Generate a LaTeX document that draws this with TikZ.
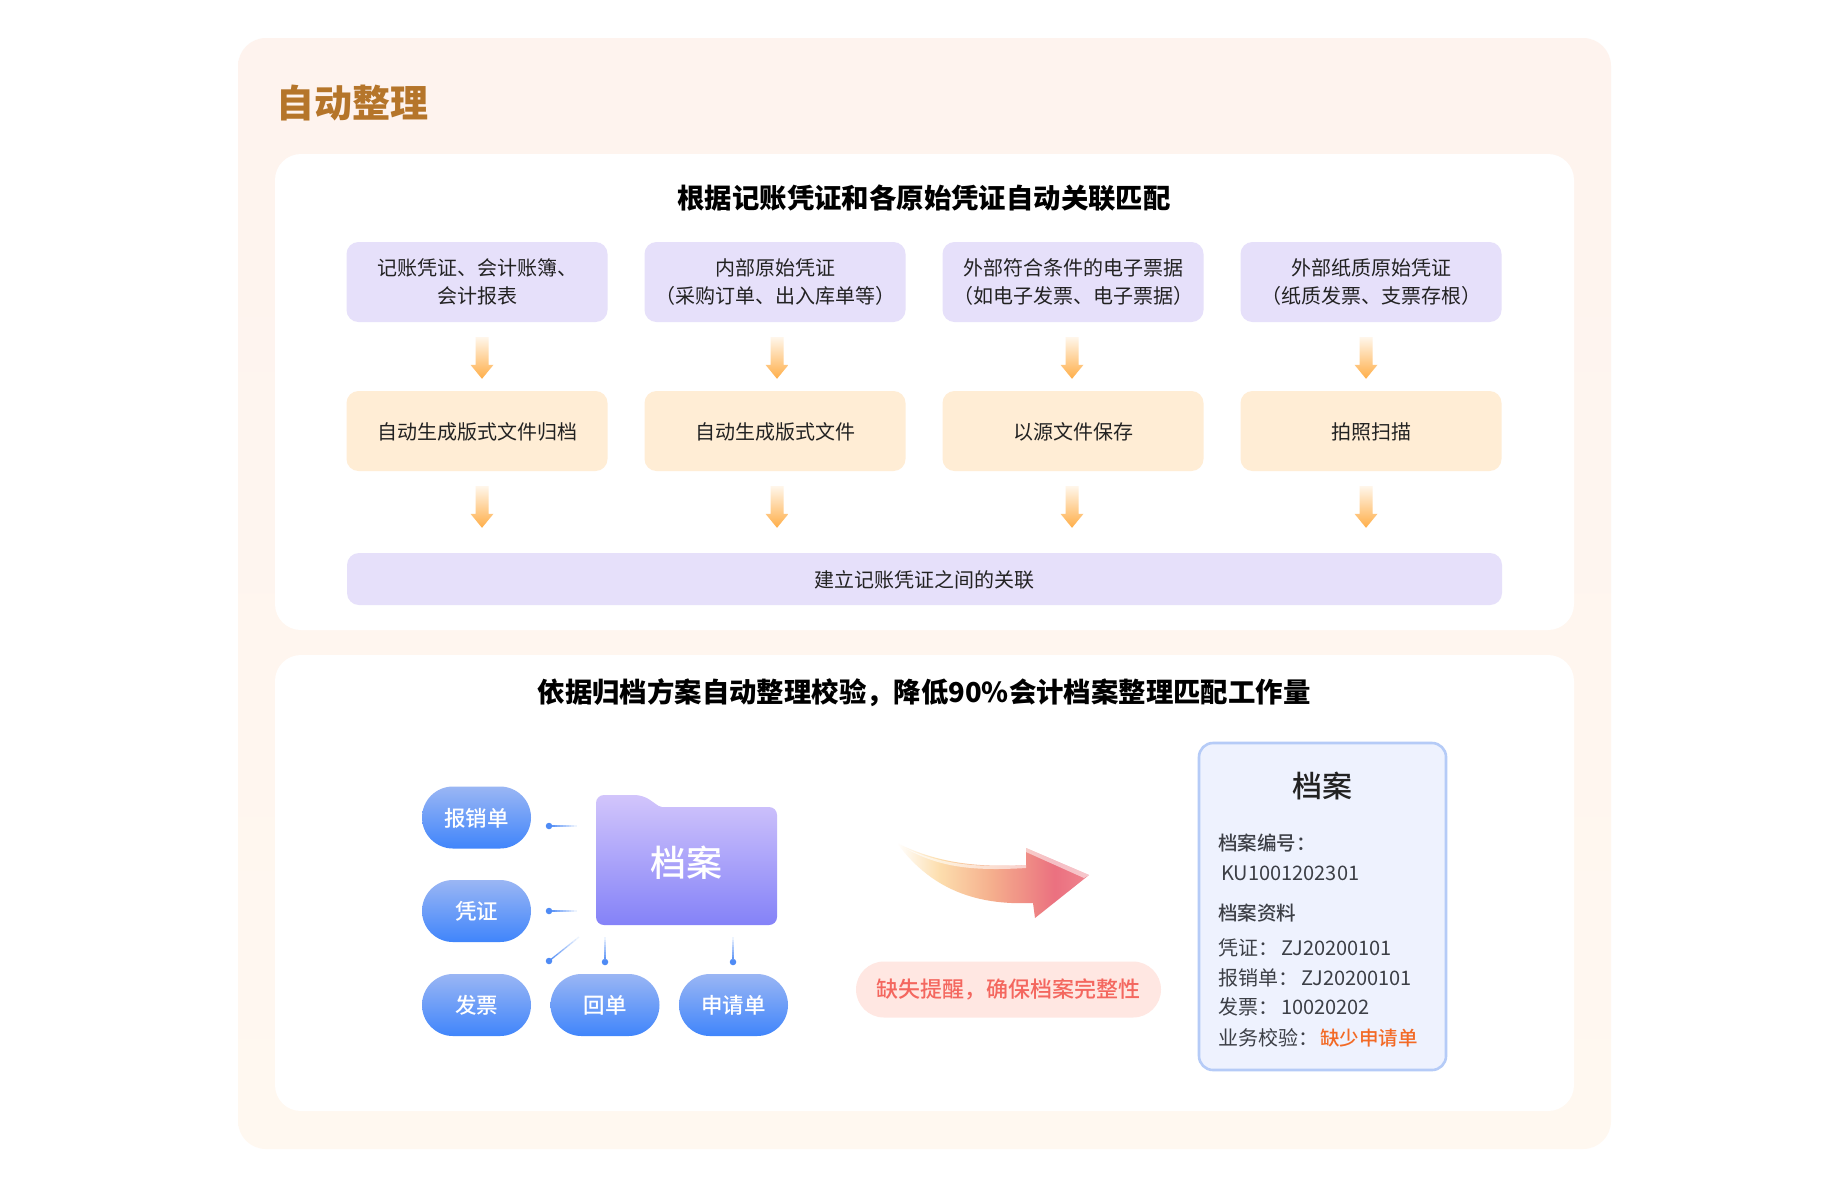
\documentclass[tikz,border=0pt]{standalone}
\usepackage{fontspec}
\setmainfont{Noto Sans CJK SC}
\newfontfamily\cjkmid{Noto Sans CJK SC Medium}
\usetikzlibrary{shapes,arrows,calc}
\definecolor{panelTop}{HTML}{FEF3EE}
\definecolor{panelBot}{HTML}{FFF8F0}
\definecolor{titleBrown}{HTML}{B5752A}
\definecolor{srcPurple}{HTML}{E6E0FA}
\definecolor{fileOrange}{HTML}{FFEDD5}
\definecolor{inkDark}{HTML}{222222}
\definecolor{inkCard}{HTML}{3C3F46}
\definecolor{arrowTop}{HTML}{FFF6EA}
\definecolor{arrowBot}{HTML}{FFAE48}
\definecolor{pillTop}{HTML}{9AB6F4}
\definecolor{pillBot}{HTML}{4085FB}
\definecolor{folderTop}{HTML}{D2C5FB}
\definecolor{folderBot}{HTML}{8482F8}
\definecolor{dotBlue}{HTML}{4F8BF5}
\definecolor{warnFill}{HTML}{FFE7E2}
\definecolor{warnText}{HTML}{F4675F}
\definecolor{cardFill}{HTML}{EEF2FE}
\definecolor{cardLine}{HTML}{B5CBF7}
\definecolor{missOrange}{HTML}{F36A26}
\pgfdeclarehorizontalshading{bigarrowshade}{100bp}{rgb(0bp)=(1,1,1); rgb(25bp)=(1,1,1); rgb(36bp)=(0.99,0.87,0.68); rgb(50bp)=(0.96,0.68,0.55); rgb(66bp)=(0.92,0.44,0.50); rgb(75bp)=(0.94,0.52,0.56); rgb(100bp)=(0.94,0.52,0.56)}
\tikzstyle{panel} = [rounded corners=26, fill=white]
\tikzstyle{lowered} = [execute at begin node={\rule{0pt}{0.89em}}]
\tikzstyle{lowertwo} = [execute at begin node={\rule{0pt}{1.45em}}]
\tikzstyle{heading} = [font=\fontsize{27.4}{32}\selectfont\bfseries, text=black, inner sep=0]
\tikzstyle{block} = [rectangle, rounded corners=12, text centered, align=center, inner sep=0, minimum width=261, minimum height=80, text=inkDark, font=\fontsize{20}{28}\selectfont, lowered]
\tikzstyle{srcblock} = [block, fill=srcPurple, lowertwo]
\tikzstyle{fileblock} = [block, fill=fileOrange]
\tikzstyle{flowline} = [top color=arrowTop, bottom color=arrowBot]
\tikzstyle{pill} = [rectangle, rounded corners=31, minimum width=109, minimum height=62, inner sep=0, top color=pillTop, bottom color=pillBot, text=white, font=\fontsize{21.5}{26}\cjkmid, lowered]
\tikzstyle{tick} = [circle, fill=dotBlue, minimum size=6.5, inner sep=0]
\tikzstyle{cardtext} = [anchor=west, inner sep=0, text=inkCard, font=\fontsize{20}{24}\selectfont]
\newcommand{\flowarrow}[4]{
        \coordinate (s) at ($(#1.south)+(#3,15)$);
        \coordinate (t) at ($(s |- #2.north)+(0,#4)$);
        \shade[flowline] ($(s)+(-6.5,0)$) -- ($(s)+(6.5,0)$) -- ($(t)+(6.5,-14)$) -- ($(t)+(11.5,-14)$) -- (t) -- ($(t)+(-11.5,-14)$) -- ($(t)+(-6.5,-14)$) -- cycle;
}
\newcommand{\fadeline}[2]{
        \foreach \i in {0,...,9} {
                \pgfmathsetmacro{\shadeval}{100-\i*10}
                \draw[dotBlue!\shadeval!white, line width=1.3] ($(#1)!\i/10!(#2)$) -- ($(#1)!\i/10+0.1!(#2)$);
        }
}

\begin{document}
\begin{tikzpicture}[x=1pt, y=-1pt, node distance=149pt]
        \useasboundingbox (0,0) rectangle (1827,1176);
        \fill[white] (0,0) rectangle (1827,1176);
        \shade[rounded corners=28, top color=panelTop, bottom color=panelBot] (238,38) rectangle (1611,1149);
        \fill[panel] (275,154) rectangle (1574,630);
        \fill[panel] (275,655) rectangle (1574,1111);
        \node[inner sep=0, text=titleBrown, font=\fontsize{38}{44}\selectfont\bfseries] (title) at (352,103) {自动整理};
        \node[heading] (headone) at (924,198) {根据记账凭证和各原始凭证自动关联匹配};
        \node[heading] (headtwo) at (924,692.5) {依据归档方案自动整理校验^^^^ff0c降低90\%会计档案整理匹配工作量};
        \node[srcblock] (ledger) at (477,282) {记账凭证、会计账簿、\\会计报表};
        \node[srcblock, right of=ledger, node distance=298pt] (internal) {内部原始凭证\\^^^^ff08采购订单、出入库单等^^^^ff09};
        \node[srcblock, right of=internal, node distance=298pt] (external) {外部符合条件的电子票据\\^^^^ff08如电子发票、电子票据^^^^ff09};
        \node[srcblock, right of=external, node distance=298pt] (paper) {外部纸质原始凭证\\^^^^ff08纸质发票、支票存根^^^^ff09};
        \node[fileblock, below of=ledger] (ledgerfile) {自动生成版式文件归档};
        \node[fileblock, below of=internal] (internalfile) {自动生成版式文件};
        \node[fileblock, below of=external] (sourcefile) {以源文件保存};
        \node[fileblock, below of=paper] (scanfile) {拍照扫描};
        \node[block, fill=srcPurple, minimum width=1155, minimum height=52] (link) at (924.5,579) {建立记账凭证之间的关联};
        \flowarrow{ledger}{ledgerfile}{5}{-12}
        \flowarrow{internal}{internalfile}{2}{-12}
        \flowarrow{external}{sourcefile}{-1}{-12}
        \flowarrow{paper}{scanfile}{-5}{-12}
        \flowarrow{ledgerfile}{link}{5}{-25}
        \flowarrow{internalfile}{link}{2}{-25}
        \flowarrow{sourcefile}{link}{-1}{-25}
        \flowarrow{scanfile}{link}{-5}{-25}
        \node[pill] (expense) at (476.5,817.5) {报销单};
        \node[pill, below of=expense, node distance=93.5pt] (voucher) {凭证};
        \node[pill, below of=voucher, node distance=94pt] (invoice) {发票};
        \node[pill, right of=invoice, node distance=128.5pt] (receipt) {回单};
        \node[pill, right of=receipt, node distance=128.5pt] (request) {申请单};
        \shade[rounded corners=8, top color=folderTop, bottom color=folderBot] (596,925) -- (596,795) -- (643,795) [rounded corners=2] -- (660,807) [rounded corners=8] -- (777,807) -- (777,925) -- cycle;
        \node[inner sep=0, text=white, font=\fontsize{36}{42}\cjkmid] (folder) at (686,863) {档案};
        \node[tick] (tickone) at (549,826) {};
        \node[tick] (ticktwo) at (549,911) {};
        \node[tick] (tickthree) at (549,961) {};
        \node[tick] (tickfour) at (605,962) {};
        \node[tick] (tickfive) at (733,962) {};
        \coordinate (endone) at (577,826);
        \coordinate (endtwo) at (577,911);
        \coordinate (endthree) at (579,937);
        \coordinate (endfour) at (605,937);
        \coordinate (endfive) at (733,937);
        \fadeline{tickone}{endone}
        \fadeline{ticktwo}{endtwo}
        \fadeline{tickthree}{endthree}
        \fadeline{tickfour}{endfour}
        \fadeline{tickfive}{endfive}
        \shade[shading=bigarrowshade] (897,843) .. controls (935,862) and (975,868) .. (1026,865) -- (1026,848) -- (1089,875) -- (1035,918) -- (1033,903) .. controls (985,905) and (935,895) .. (897,843) -- cycle;
        \fill[white, opacity=0.6] (905,848) .. controls (940,864) and (975,868) .. (1026,865) -- (1026,868) .. controls (975,871) and (940,868) .. (905,848) -- cycle;
        \fill[white, opacity=0.55] (1026,848) -- (1089,875) -- (1084,878) -- (1026,852) -- cycle;
        \node[rectangle, rounded corners=28, fill=warnFill, minimum width=305, minimum height=56, inner sep=0, text=warnText, font=\fontsize{22}{26}\cjkmid, lowered] (warning) at (1008.5,989.5) {缺失提醒^^^^ff0c确保档案完整性};
        \draw[rounded corners=14, fill=cardFill, draw=cardLine, line width=2.6] (1199,743) rectangle (1446,1070);
        \node[inner sep=0, text=inkDark, font=\fontsize{30}{36}\cjkmid] (cardtitle) at (1322,786) {档案};
        \node[cardtext, font=\fontsize{19.5}{24}\cjkmid] (numlabel) at (1218,843) {档案编号^^^^ff1a};
        \node[cardtext] (numvalue) at (1221,873) {KU1001202301};
        \node[cardtext, font=\fontsize{19.5}{24}\cjkmid] (datalabel) at (1218,913) {档案资料};
        \node[cardtext] (vouchernum) at (1218,948) {凭证^^^^ff1a\hspace{3pt}ZJ20200101};
        \node[cardtext] (expensenum) at (1218,978) {报销单^^^^ff1a\hspace{3pt}ZJ20200101};
        \node[cardtext] (invoicenum) at (1218,1007) {发票^^^^ff1a\hspace{3pt}10020202};
        \node[cardtext] (checkline) at (1218,1038) {业务校验^^^^ff1a\hspace{2pt}\textcolor{missOrange}{\fontsize{19.5}{24}\cjkmid 缺少申请单}};
\end{tikzpicture}
\end{document}
